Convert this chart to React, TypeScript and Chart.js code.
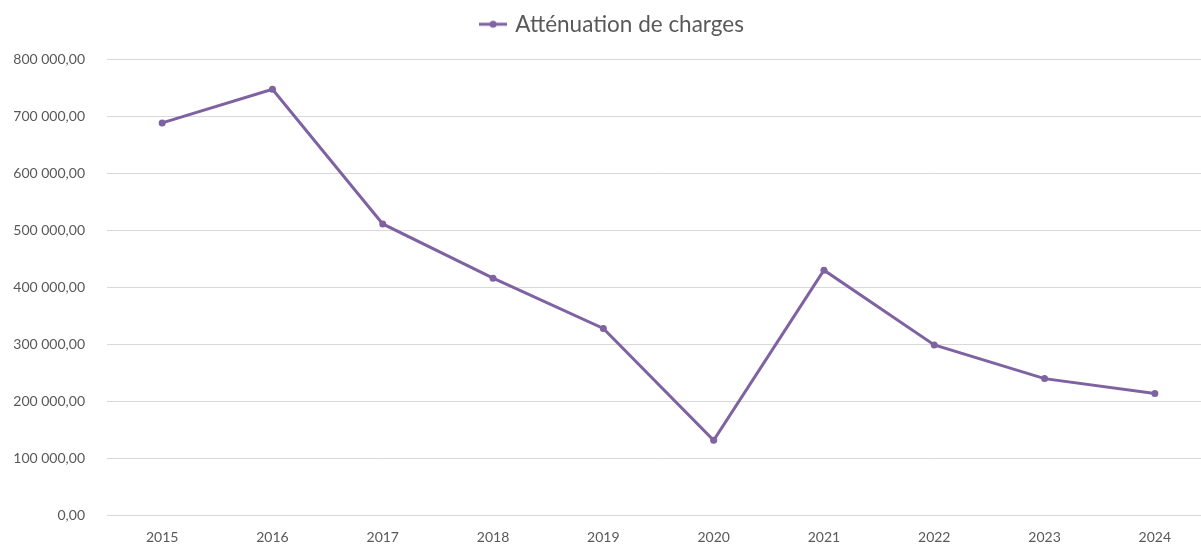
import React, { useEffect, useRef } from "react";
import { Chart, registerables } from "chart.js";

Chart.register(...registerables);

const categories = ["2015", "2016", "2017", "2018", "2019", "2020", "2021", "2022", "2023", "2024"];
const seriesLabel = "Atténuation de charges";
const seriesValues = [688000, 747000, 511000, 416000, 328000, 132000, 430000, 299000, 240000, 214000];
const yMin = 0;
const yMax = 800000;
const yStep = 100000;

const LINE_COLOR = "#7F62A1";
const TEXT_COLOR = "#595959";
const GRID_COLOR = "#D9D9D9";
const FONT = "Lato, 'Open Sans', 'DejaVu Sans', sans-serif";

function formatFr(v: number): string {
  const n = Math.round(v);
  const s = String(n).replace(/\B(?=(\d{3})+(?!\d))/g, " ");
  return s + ",00";
}

function makeLegendMarker(): HTMLCanvasElement {
  const c = document.createElement("canvas");
  c.width = 28;
  c.height = 10;
  const ctx = c.getContext("2d")!;
  ctx.strokeStyle = LINE_COLOR;
  ctx.lineWidth = 3;
  ctx.beginPath();
  ctx.moveTo(0, 5);
  ctx.lineTo(28, 5);
  ctx.stroke();
  ctx.fillStyle = LINE_COLOR;
  ctx.beginPath();
  ctx.arc(14, 5, 3.5, 0, Math.PI * 2);
  ctx.fill();
  return c;
}

const legendTweak = {
  id: "legendTweak",
  beforeLayout(chart: any) {
    const lg = chart.legend;
    if (lg && !lg.__patched) {
      const origFit = lg.fit.bind(lg);
      lg.fit = function () {
        origFit();
        this.height += 13.5;
      };
      const origDraw = lg.draw.bind(lg);
      lg.draw = function () {
        const ctx = this.ctx;
        ctx.save();
        ctx.translate(8, 0);
        origDraw();
        ctx.restore();
      };
      lg.__patched = true;
    }
  },
};

export default function App() {
  const ref = useRef<HTMLCanvasElement | null>(null);

  useEffect(() => {
    document.body.style.margin = "0";
    const canvas = ref.current;
    if (!canvas) return;
    const marker = makeLegendMarker();
    const chart = new Chart(canvas, {
      type: "line",
      data: {
        labels: categories,
        datasets: [
          {
            label: seriesLabel,
            data: seriesValues,
            borderColor: LINE_COLOR,
            backgroundColor: LINE_COLOR,
            borderWidth: 3,
            pointRadius: 3.5,
            pointBorderWidth: 0,
            pointBackgroundColor: LINE_COLOR,
            pointStyle: "circle",
            tension: 0,
            fill: false,
          },
        ],
      },
      plugins: [legendTweak],
      options: {
        responsive: false,
        animation: false,
        layout: { autoPadding: false, padding: { top: 0, right: 0, bottom: 0, left: 0 } },
        plugins: {
          tooltip: { enabled: false },
          legend: {
            display: true,
            position: "top",
            labels: {
              color: TEXT_COLOR,
              font: { family: FONT, size: 22.5 },
              usePointStyle: true,
              pointStyleWidth: 22,
              boxHeight: 10,
              padding: 13,
              generateLabels: (ch: any) =>
                ch.data.datasets.map((ds: any, i: number) => ({
                  text: ds.label,
                  fillStyle: LINE_COLOR,
                  strokeStyle: LINE_COLOR,
                  lineWidth: 0,
                  pointStyle: marker,
                  hidden: false,
                  datasetIndex: i,
                  fontColor: TEXT_COLOR,
                })),
            },
          },
        },
        scales: {
          x: {
            type: "category",
            offset: true,
            grid: { display: false, drawTicks: false },
            border: { display: false },
            ticks: {
              color: TEXT_COLOR,
              font: { family: FONT, size: 14 },
              padding: 13,
              maxRotation: 0,
            },
            afterFit: (s: any) => {
              s.height = 28;
            },
          },
          y: {
            min: yMin,
            max: yMax,
            grid: { color: GRID_COLOR, lineWidth: 1, drawTicks: false },
            border: { display: false },
            ticks: {
              stepSize: yStep,
              color: TEXT_COLOR,
              font: { family: FONT, size: 14 },
              padding: 22,
              callback: (v: any) => formatFr(Number(v)),
            },
            afterFit: (s: any) => {
              s.width = 107;
            },
          },
        },
      },
    });
    return () => chart.destroy();
  }, []);

  return (
    <div
      style={{
        position: "fixed",
        left: 0,
        top: 0,
        width: 1201,
        height: 546,
        overflow: "hidden",
        background: "#fff",
      }}
    >
      <canvas ref={ref} width={1210} height={546} style={{ display: "block" }} />
    </div>
  );
}
